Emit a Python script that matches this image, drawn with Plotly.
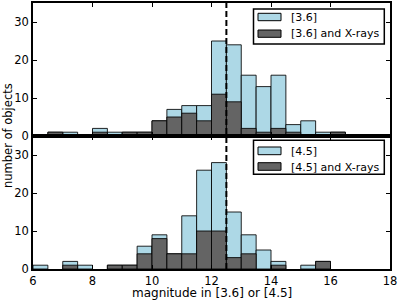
import plotly.graph_objects as go
from plotly.subplots import make_subplots

# bin left edges (width 0.5) from 6 to 18
bin_left = [6.0 + 0.5 * i for i in range(24)]
bin_width = 0.5

# [3.6] counts
irac1_all = [0, 1, 1, 0, 2, 1, 1, 1, 4, 7, 8, 8, 25, 24, 16, 13, 16, 3, 4, 1, 1, 0, 0, 0]
irac1_xray = [0, 1, 0, 0, 1, 0, 1, 1, 4, 5, 6, 4, 11, 9, 2, 1, 2, 1, 0, 0, 1, 0, 0, 0]

# [4.5] counts
irac2_all = [1, 0, 2, 1, 0, 1, 1, 6, 9, 4, 14, 26, 28, 15, 9, 5, 2, 0, 1, 2, 0, 0, 0, 0]
irac2_xray = [0, 0, 1, 0, 0, 1, 1, 4, 8, 4, 4, 10, 10, 3, 4, 0, 1, 0, 0, 2, 0, 0, 0, 0]

cut_mag = 12.5
x_ticks = [6, 8, 10, 12, 14, 16, 18]
y_ticks = [0, 10, 20, 30]

LIGHT = "#add8e6"
DARK = "#646464"
EDGE = "rgba(0,0,0,0.85)"
FONT = "DejaVu Sans"

W, H = 398, 308
ML, MR, MT, MB = 33, 8, 3, 39
PW, PH = W - ML - MR, H - MT - MB

centers = [b + bin_width / 2 for b in bin_left]


def nz(vals):
    return [v if v > 0 else None for v in vals]


def px(x):
    return (x - ML) / PW


def py(y):
    return (H - MB - y) / PH


fig = make_subplots(rows=2, cols=1, shared_xaxes=True, vertical_spacing=0.0)

panels = [
    (1, irac1_all, irac1_xray, "[3.6]"),
    (2, irac2_all, irac2_xray, "[4.5]"),
]
for row, tot, xr, band in panels:
    fig.add_trace(go.Bar(x=centers, y=nz(tot), width=bin_width, name=band,
                         marker=dict(color=LIGHT, line=dict(color=EDGE, width=1))),
                  row=row, col=1)
    fig.add_trace(go.Bar(x=centers, y=nz(xr), width=bin_width, name=band + " and X-rays",
                         marker=dict(color=DARK, line=dict(color=EDGE, width=1))),
                  row=row, col=1)

axis_common = dict(showline=True, linecolor="black", linewidth=1.5, mirror="ticks",
                   ticks="inside", ticklen=4, tickwidth=1, tickcolor="black",
                   showgrid=False, zeroline=False, automargin=False,
                   tickfont=dict(family=FONT, size=11.5, color="black"))

for r in (1, 2):
    fig.update_xaxes(range=[6, 18], tickvals=x_ticks, row=r, col=1, **axis_common)
    fig.update_yaxes(range=[0, 35], tickvals=y_ticks, row=r, col=1, **axis_common)
fig.update_xaxes(showticklabels=False, row=1, col=1)

fig.add_shape(type="line", xref="x", yref="paper", x0=cut_mag, x1=cut_mag, y0=0, y1=1,
              line=dict(color="black", width=2, dash="6px,3px"))

fig.add_annotation(text="number of objects", xref="paper", yref="paper", x=px(8), y=py(136),
                   textangle=-90, showarrow=False, xanchor="center", yanchor="middle",
                   font=dict(family=FONT, size=11.5, color="black"))
fig.add_annotation(text="magnitude in [3.6] or [4.5]", xref="paper", yref="paper",
                   x=px(211.5), y=py(293), showarrow=False, xanchor="center", yanchor="middle",
                   font=dict(family=FONT, size=12, color="black"))

# legends (one boxed legend per panel, drawn in paper space)
legend_boxes = [
    ("[3.6]", 9, 44, [(13.3, 20.7, 17.3), (30, 37.3, 33.5)]),
    ("[4.5]", 140.3, 174.3, [(147, 154.7, 151), (162.7, 170.3, 167)]),
]
for band, top, bot, rows in legend_boxes:
    fig.add_shape(type="rect", xref="paper", yref="paper", x0=px(253.5), x1=px(384.3),
                  y0=py(bot), y1=py(top), fillcolor="white",
                  line=dict(color="black", width=1.5), layer="above")
    for (t, b, ty), label, color in zip(rows, [band, band + " and X-rays"], [LIGHT, DARK]):
        fig.add_shape(type="rect", xref="paper", yref="paper", x0=px(258), x1=px(281),
                      y0=py(b), y1=py(t), fillcolor=color,
                      line=dict(color="black", width=1), layer="above")
        fig.add_annotation(text=label, xref="paper", yref="paper", x=px(289), y=py(ty),
                           showarrow=False, xanchor="left", yanchor="middle",
                           font=dict(family=FONT, size=11, color="black"))

fig.update_layout(
    width=W, height=H,
    margin=dict(l=ML, r=MR, t=MT, b=MB, autoexpand=False),
    barmode="overlay",
    paper_bgcolor="white", plot_bgcolor="white",
    showlegend=False,
    font=dict(family=FONT, size=11.5, color="black"),
)

fig.write_html("out.html", config={"displayModeBar": False},
               post_script="document.body.style.margin='0';document.body.style.overflow='hidden';")
